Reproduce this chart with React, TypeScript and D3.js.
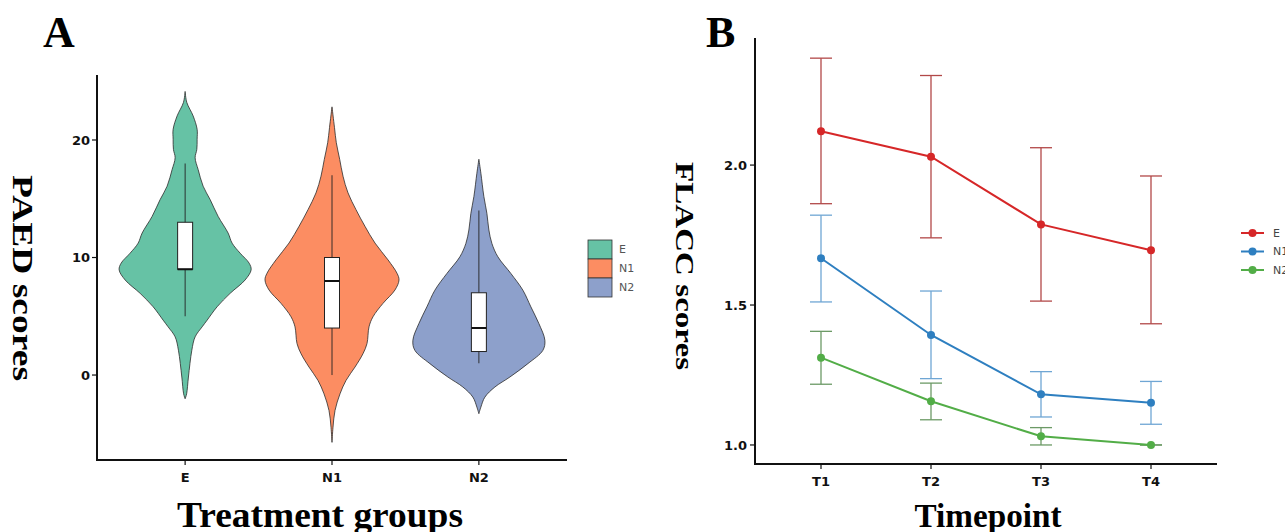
import React from "react";
import * as d3 from "d3";

// ---------- Panel A data ----------
const groups = ["E", "N1", "N2"];
const groupColors = ["#66c2a5", "#fc8d62", "#8da0cb"];
// violin profiles: [score, half-width]
const violinE: [number, number][] = [
  [24.13, 0], [23.19, 1.7], [22.05, 8], [20.91, 12], [20.06, 12], [19.2, 11.7], [18.49, 10],
  [17.49, 13], [16.07, 18], [14.93, 25], [13.5, 33], [12.08, 43], [11.22, 47], [10.37, 55],
  [9.52, 64], [8.95, 66], [8.09, 60], [6.95, 45], [5.81, 32], [4.67, 22], [4.1, 17],
  [3.25, 10], [2.11, 6.7], [-0.17, 3.3], [-1.6, 1.5], [-2.02, 0],
];
const violinN1: [number, number][] = [
  [22.82, 0], [21.05, 2.5], [19.77, 4.3], [18.35, 7.7], [16.92, 11], [15.5, 16], [14.07, 24],
  [12.65, 33], [11.23, 43], [9.8, 56], [8.66, 65], [8.09, 67], [7.24, 63], [6.1, 51],
  [4.96, 41], [4.1, 37], [2.68, 35], [1.82, 31], [0.68, 23], [-0.46, 14], [-1.6, 8],
  [-3.02, 3], [-4.44, 1], [-5.73, 0],
];
const violinN2: [number, number][] = [
  [18.36, 0], [17.17, 2], [15.18, 5], [13.76, 8], [12.34, 10], [11.2, 13], [10.06, 19],
  [8.64, 32], [7.22, 44], [5.8, 52], [4.38, 60], [2.96, 66], [2.1, 64], [0.97, 49],
  [-0.17, 31], [-1.02, 16], [-1.88, 6], [-2.73, 2], [-3.29, 0],
];
const violins = [violinE, violinN1, violinN2];
// box stats: [whiskerLow, q1, median, q3, whiskerHigh]
const boxE = [5, 9, 9, 13, 18];
const boxN1 = [0, 4, 8, 10, 17];
const boxN2 = [1, 2, 4, 7, 14];
const boxes = [boxE, boxN1, boxN2];
const paedTicks = [0, 10, 20];

// ---------- Panel B data ----------
const timepoints = ["T1", "T2", "T3", "T4"];
const seriesNames = ["E", "N1", "N2"];
const meanE = [2.121, 2.03, 1.788, 1.696];
const upperE = [2.382, 2.32, 2.062, 1.961];
const lowerE = [1.862, 1.74, 1.514, 1.433];
const meanN1 = [1.667, 1.393, 1.181, 1.151];
const upperN1 = [1.821, 1.55, 1.262, 1.227];
const lowerN1 = [1.511, 1.237, 1.1, 1.074];
const meanN2 = [1.312, 1.156, 1.031, 1.0];
const upperN2 = [1.406, 1.221, 1.062, 1.0];
const lowerN2 = [1.217, 1.09, 1.0, 1.0];
const flaccTicks = [1.0, 1.5, 2.0];
const lineColors = ["#d62728", "#2e7fc0", "#52ad47"];
const errColors = ["#b24848", "#6fa6d4", "#6c9a66"];

const serif = "'Liberation Serif', 'Times New Roman', serif";
const sans = "'DejaVu Sans', Verdana, sans-serif";

export default function App() {
  // Panel A scales
  const axLeft = 97, axRight = 567, axTop = 75, axBottom = 460;
  const xA = d3.scalePoint<string>().domain(groups).range([axLeft, axRight]).padding(0.6);
  const yA = d3.scaleLinear().domain([-7.23, 25.53]).range([axBottom, axTop]);
  const wA = d3.scaleLinear().domain([0, 1]).range([0, 1]);

  // Panel B scales
  const bLeft = 755, bRight = 1217, bTop = 38, bBottom = 464;
  const xB = d3.scalePoint<string>().domain(timepoints).range([bLeft, bRight]).padding(0.6);
  const yB = d3.scaleLinear().domain([0.932, 2.454]).range([bBottom, bTop]);

  const means = [meanE, meanN1, meanN2];
  const uppers = [upperE, upperN1, upperN2];
  const lowers = [lowerE, lowerN1, lowerN2];

  const line = d3
    .line<number>()
    .x((_, i) => xB(timepoints[i])!)
    .y((d) => yB(d));

  return (
    <svg
      width={1285}
      height={532}
      style={{ position: "absolute", left: 0, top: 0, background: "#ffffff" }}
    >
      {/* ===== Panel A ===== */}
      <text x={43} y={47} fontFamily={serif} fontWeight="bold" fontSize={44}>
        A
      </text>
      {groups.map((g, gi) => {
        const cx = xA(g)!;
        const area = d3
          .area<[number, number]>()
          .y((d) => yA(d[0]))
          .x0((d) => cx - wA(d[1]))
          .x1((d) => cx + wA(d[1]))
          .curve(d3.curveCatmullRom.alpha(0.5));
        const b = boxes[gi];
        const bw = 15;
        return (
          <g key={g}>
            <path
              d={area(violins[gi]) || ""}
              fill={groupColors[gi]}
              stroke="#2b2b2b"
              strokeWidth={0.8}
            />
            <line x1={cx} x2={cx} y1={yA(b[0])} y2={yA(b[4])} stroke="#222" strokeWidth={0.9} />
            <rect
              x={cx - bw / 2}
              y={yA(b[3])}
              width={bw}
              height={yA(b[1]) - yA(b[3])}
              fill="#ffffff"
              stroke="#222"
              strokeWidth={1}
            />
            <line
              x1={cx - bw / 2}
              x2={cx + bw / 2}
              y1={yA(b[2])}
              y2={yA(b[2])}
              stroke="#111"
              strokeWidth={2}
            />
          </g>
        );
      })}
      {/* axes A */}
      <line x1={axLeft} x2={axLeft} y1={axTop} y2={axBottom + 1} stroke="#111" strokeWidth={2} />
      <line x1={axLeft - 1} x2={axRight} y1={axBottom} y2={axBottom} stroke="#111" strokeWidth={2} />
      {paedTicks.map((t) => (
        <g key={t}>
          <line x1={axLeft - 5} x2={axLeft} y1={yA(t)} y2={yA(t)} stroke="#111" strokeWidth={1.2} />
          <text
            x={axLeft - 7}
            y={yA(t)}
            dy="0.36em"
            textAnchor="end"
            fontFamily={sans}
            fontWeight="bold"
            fontSize={13}
            fill="#111"
          >
            {t}
          </text>
        </g>
      ))}
      {groups.map((g) => (
        <g key={g}>
          <line x1={xA(g)} x2={xA(g)} y1={axBottom} y2={axBottom + 5} stroke="#111" strokeWidth={1.2} />
          <text
            x={xA(g)}
            y={482}
            textAnchor="middle"
            fontFamily={sans}
            fontWeight="bold"
            fontSize={13}
            fill="#111"
          >
            {g}
          </text>
        </g>
      ))}
      <text
        x={320}
        y={527}
        textAnchor="middle"
        fontFamily={serif}
        fontWeight="bold"
        fontSize={35}
        textLength={286}
        lengthAdjust="spacingAndGlyphs"
      >
        Treatment groups
      </text>
      <text
        transform="translate(13,278) rotate(90)"
        textAnchor="middle"
        fontFamily={serif}
        fontWeight="bold"
        fontSize={30}
        textLength={206}
        lengthAdjust="spacingAndGlyphs"
      >
        PAED scores
      </text>
      {/* legend A */}
      {groups.map((g, gi) => (
        <g key={g}>
          <rect
            x={588}
            y={240 + gi * 19}
            width={24}
            height={19}
            fill={groupColors[gi]}
            stroke="#333"
            strokeWidth={0.8}
          />
          <text
            x={619}
            y={249.5 + gi * 19}
            dy="0.36em"
            fontFamily={sans}
            fontSize={11}
            fill="#555"
          >
            {g}
          </text>
        </g>
      ))}

      {/* ===== Panel B ===== */}
      <text x={706} y={47} fontFamily={serif} fontWeight="bold" fontSize={44}>
        B
      </text>
      {seriesNames.map((s, si) => (
        <g key={s}>
          {timepoints.map((t, ti) => {
            const x = xB(t)!;
            return (
              <g key={t}>
                <line x1={x} x2={x} y1={yB(lowers[si][ti])} y2={yB(uppers[si][ti])} stroke={errColors[si]} strokeWidth={1.3} />
                <line x1={x - 11} x2={x + 11} y1={yB(lowers[si][ti])} y2={yB(lowers[si][ti])} stroke={errColors[si]} strokeWidth={1.3} />
                <line x1={x - 11} x2={x + 11} y1={yB(uppers[si][ti])} y2={yB(uppers[si][ti])} stroke={errColors[si]} strokeWidth={1.3} />
              </g>
            );
          })}
        </g>
      ))}
      {seriesNames.map((s, si) => (
        <g key={s}>
          <path d={line(means[si]) || ""} fill="none" stroke={lineColors[si]} strokeWidth={2} />
          {means[si].map((m, ti) => (
            <circle key={ti} cx={xB(timepoints[ti])} cy={yB(m)} r={4} fill={lineColors[si]} />
          ))}
        </g>
      ))}
      {/* axes B */}
      <line x1={bLeft} x2={bLeft} y1={bTop} y2={bBottom + 1} stroke="#111" strokeWidth={2} />
      <line x1={bLeft - 1} x2={bRight} y1={bBottom} y2={bBottom} stroke="#111" strokeWidth={2} />
      {flaccTicks.map((t) => (
        <g key={t}>
          <line x1={bLeft - 5} x2={bLeft} y1={yB(t)} y2={yB(t)} stroke="#111" strokeWidth={1.2} />
          <text
            x={bLeft - 8}
            y={yB(t)}
            dy="0.36em"
            textAnchor="end"
            fontFamily={sans}
            fontWeight="bold"
            fontSize={13}
            fill="#111"
          >
            {d3.format(".1f")(t)}
          </text>
        </g>
      ))}
      {timepoints.map((t) => (
        <g key={t}>
          <line x1={xB(t)} x2={xB(t)} y1={bBottom} y2={bBottom + 5} stroke="#111" strokeWidth={1.2} />
          <text
            x={xB(t)}
            y={486}
            textAnchor="middle"
            fontFamily={sans}
            fontWeight="bold"
            fontSize={13}
            fill="#111"
          >
            {t}
          </text>
        </g>
      ))}
      <text
        x={988}
        y={527}
        textAnchor="middle"
        fontFamily={serif}
        fontWeight="bold"
        fontSize={34}
        textLength={147}
        lengthAdjust="spacingAndGlyphs"
      >
        Timepoint
      </text>
      <text
        transform="translate(676,266) rotate(90)"
        textAnchor="middle"
        fontFamily={serif}
        fontWeight="bold"
        fontSize={26}
        textLength={208}
        lengthAdjust="spacingAndGlyphs"
      >
        FLACC scores
      </text>
      {/* legend B */}
      {seriesNames.map((s, si) => (
        <g key={s}>
          <line x1={1241} x2={1264} y1={233 + si * 18.5} y2={233 + si * 18.5} stroke={lineColors[si]} strokeWidth={2} />
          <circle cx={1252.5} cy={233 + si * 18.5} r={4} fill={lineColors[si]} />
          <text x={1273} y={233 + si * 18.5} dy="0.36em" fontFamily={sans} fontSize={11} fill="#444">
            {s}
          </text>
        </g>
      ))}
    </svg>
  );
}
